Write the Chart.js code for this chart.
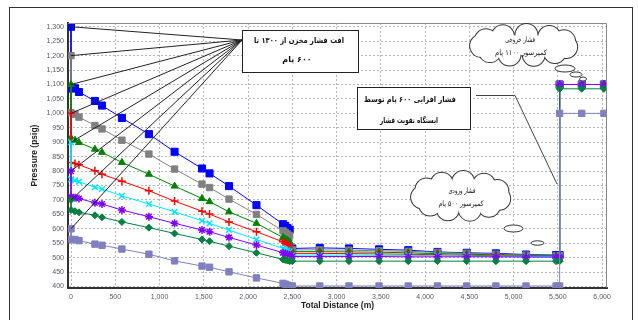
<!DOCTYPE html>
<html>
<head>
<meta charset="utf-8">
<script src="https://cdn.jsdelivr.net/npm/chart.js@4"></script>
<style>
  body { margin: 0; background: #fff; }
</style>
</head>
<body>
<canvas id="myChart" width="638" height="320"></canvas>
<script>
// distance along the line (m)
const distances = [0, 0, 45, 90, 270, 350, 575, 880, 1170, 1480, 1565, 1785, 2095, 2395,
  2420, 2445, 2470, 2500, 2810, 3140, 3480, 3810, 4140, 4470, 4800, 5140, 5480, 5520, 5520, 5770, 6020];

// pressure (psig) for each reservoir case
const p1300 = [1300, 1086, 1087, 1074, 1043, 1027, 984, 928, 867, 809, 792, 748, 682, 616,
  610, 603, 597, 532, 534, 532, 529, 526, 520, 517, 515, 511, 509, 509, 1100, 1100, 1100];
const p1200 = [1200, 1002, 997, 987, 958, 946, 907, 859, 807, 755, 743, 703, 650, 593,
  588, 582, 577, 527, 527, 526, 524, 522, 518, 515, 512, 509, 507, 507, 1100, 1100, 1100];
const p1100 = [1100, 915, 907, 899, 876, 865, 830, 789, 748, 705, 694, 659, 619, 570,
  565, 560, 555, 521, 521, 520, 519, 517, 514, 512, 510, 508, 506, 506, 1100, 1100, 1100];
const p1000 = [1000, 830, 826, 822, 801, 789, 765, 732, 696, 661, 651, 624, 590, 555,
  550, 546, 542, 515, 515, 514, 513, 512, 510, 508, 507, 505, 504, 504, 1100, 1100, 1100];
const p900 = [900, 771, 768, 763, 744, 738, 714, 686, 659, 628, 619, 596, 563, 532,
  528, 525, 522, 509, 509, 509, 508, 508, 507, 506, 505, 505, 504, 504, 1100, 1100, 1100];
const p800 = [800, 711, 708, 705, 690, 686, 665, 642, 619, 596, 590, 570, 544, 517,
  514, 512, 510, 504, 504, 504, 504, 503, 503, 503, 503, 502, 502, 502, 1100, 1100, 1100];
const p700 = [700, 665, 661, 657, 647, 640, 624, 604, 584, 563, 557, 540, 517, 494,
  492, 490, 488, 488, 488, 488, 488, 488, 488, 488, 488, 488, 488, 488, 1085, 1085, 1085];
const p600 = [600, 563, 563, 559, 547, 543, 530, 512, 489, 471, 467, 451, 430, 411,
  408, 405, 403, 402, 402, 402, 402, 402, 402, 402, 402, 402, 402, 402, 1000, 1000, 1000];

const xTickValues = [0, 500, 1000, 1500, 2000, 2500, 3000, 3500, 4000, 4500, 5000, 5500, 6000];
const yTickValues = [400, 450, 500, 550, 600, 650, 700, 750, 800, 850, 900, 950, 1000, 1050, 1100, 1150, 1200, 1250, 1300];

const series = [
  { name: '1300', values: p1300, color: '#0000ff', style: 'rect', r: 5 },
  { name: '1200', values: p1200, color: '#808080', style: 'rect', r: 4.5 },
  { name: '1100', values: p1100, color: '#008000', style: 'triangle', r: 4 },
  { name: '1000', values: p1000, color: '#ff0000', style: 'cross', r: 4 },
  { name: '900', values: p900, color: '#00e5ff', style: 'crossRot', r: 4 },
  { name: '800', values: p800, color: '#8000ff', style: 'star', r: 4 },
  { name: '700', values: p700, color: '#008040', style: 'rectRot', r: 3.5 },
  { name: '600', values: p600, color: '#8080c0', style: 'rect', r: 4.5 }
];

function cloud(ctx, cx, cy, rx, ry) {
  const bumps = [];
  const n = 11;
  for (let i = 0; i < n; i++) {
    const a = i / n * Math.PI * 2 + 0.2;
    bumps.push([cx + (rx - 11) * Math.cos(a), cy + (ry - 8) * Math.sin(a)]);
  }
  ctx.strokeStyle = '#333';
  ctx.lineWidth = 2;
  bumps.forEach(b => { ctx.beginPath(); ctx.arc(b[0], b[1], 11, 0, Math.PI * 2); ctx.stroke(); });
  ctx.fillStyle = '#fff';
  bumps.forEach(b => { ctx.beginPath(); ctx.arc(b[0], b[1], 11, 0, Math.PI * 2); ctx.fill(); });
  ctx.beginPath(); ctx.ellipse(cx, cy, rx - 11, ry - 8, 0, 0, Math.PI * 2); ctx.fill();
}

function bubble(ctx, cx, cy, rx, ry) {
  ctx.beginPath();
  ctx.ellipse(cx, cy, rx, ry, 0, 0, Math.PI * 2);
  ctx.fillStyle = '#fff'; ctx.fill();
  ctx.strokeStyle = '#333'; ctx.lineWidth = 1; ctx.stroke();
}

function box(ctx, x, y, w, h) {
  ctx.fillStyle = '#fff';
  ctx.fillRect(x, y, w, h);
  ctx.strokeStyle = '#222'; ctx.lineWidth = 1;
  ctx.strokeRect(x + 0.5, y + 0.5, w, h);
}

// text squeezed to the width it takes in the picture
function say(ctx, text, x, y, font, w) {
  ctx.font = font;
  ctx.fillStyle = '#111';
  ctx.direction = 'rtl';
  ctx.textAlign = 'center';
  ctx.textBaseline = 'middle';
  ctx.fillText(text, x, y, w);
}

const notes = {
  id: 'notes',
  afterDraw(chart) {
    const ctx = chart.ctx;
    const xs = chart.scales.x, ys = chart.scales.y, a = chart.chartArea;
    ctx.save();
    // outer frame
    ctx.strokeStyle = '#333'; ctx.lineWidth = 1;
    ctx.strokeRect(9.5, 7.5, 623, 330);
    // plot frame top and right
    ctx.strokeStyle = '#888';
    ctx.beginPath();
    ctx.moveTo(a.left, a.top + 0.5); ctx.lineTo(a.right - 0.5, a.top + 0.5); ctx.lineTo(a.right - 0.5, a.bottom);
    ctx.stroke();

    // callout lines to the reservoir start points
    ctx.strokeStyle = '#222'; ctx.lineWidth = 1;
    chart.data.datasets.forEach(ds => {
      ctx.beginPath();
      ctx.moveTo(242, 40);
      ctx.lineTo(xs.getPixelForValue(ds.data[0].x), ys.getPixelForValue(ds.data[0].y));
      ctx.stroke();
    });
    box(ctx, 242, 30, 116, 42);
    say(ctx, 'افت فشار مخزن از ۱۳۰۰ تا', 299, 41, 'bold 8px "DejaVu Sans"', 90);
    say(ctx, '۶۰۰ پام', 297, 60, 'bold 8px "DejaVu Sans"', 30);

    // booster note
    ctx.strokeStyle = '#444'; ctx.lineWidth = 1;
    ctx.beginPath();
    ctx.moveTo(476, 95.5); ctx.lineTo(515, 95.5); ctx.lineTo(557, 184);
    ctx.stroke();
    box(ctx, 357, 87, 113, 42);
    say(ctx, 'فشار افزایی ۶۰۰ پام توسط', 410, 100, 'bold 8px "DejaVu Sans"', 92);
    say(ctx, 'ایستگاه تقویت فشار', 409, 121, 'bold 8px "DejaVu Sans"', 58);

    // compressor outlet cloud
    cloud(ctx, 524, 45, 54, 18);
    bubble(ctx, 565, 68.5, 10, 3.5);
    bubble(ctx, 576, 74.5, 6, 2.5);
    bubble(ctx, 583, 79, 3.5, 2);
    say(ctx, 'فشار خروجی', 520, 40, '7.5px "DejaVu Sans"', 30);
    say(ctx, 'کمپرسور ۱۱۰۰ پام', 521, 53, '7.5px "DejaVu Sans"', 52);

    // compressor inlet cloud
    cloud(ctx, 461, 196, 50, 22);
    bubble(ctx, 513.5, 228.5, 9.5, 3.5);
    bubble(ctx, 537.5, 243, 6.5, 2.2);
    say(ctx, 'فشار ورودی', 462, 191, '7.5px "DejaVu Sans"', 27);
    say(ctx, 'کمپرسور ۵۰۰ پام', 461, 204, '7.5px "DejaVu Sans"', 45);
    ctx.restore();
  }
};

const config = {
  type: 'line',
  data: {
    datasets: series.map((s, i) => ({
      label: s.name,
      data: distances.map((d, j) => ({ x: d, y: s.values[j] })),
      borderColor: s.color,
      backgroundColor: s.color,
      borderWidth: 1,
      pointStyle: s.style,
      pointRadius: s.r,
      pointBorderWidth: (s.style === 'cross' || s.style === 'crossRot' || s.style === 'star') ? 1.5 : 1,
      tension: 0,
      order: series.length - i
    }))
  },
  options: {
    responsive: false,
    animation: false,
    layout: { padding: { left: 26, top: 23, right: 31, bottom: 0 } },
    plugins: { legend: { display: false }, tooltip: { enabled: false } },
    scales: {
      x: {
        type: 'linear',
        min: -34,
        max: 6055,
        afterBuildTicks: s => { s.ticks = xTickValues.map(v => ({ value: v })); },
        afterFit: s => { s.height = 32; },
        ticks: {
          font: { family: 'Liberation Sans', size: 7 },
          color: '#555566',
          padding: 5,
          maxRotation: 0,
          callback: v => v.toLocaleString('en-US')
        },
        grid: { color: '#b4b4b4', lineWidth: 1, drawTicks: false },
        border: { color: '#333', width: 2, dash: [2, 2] },
        title: {
          display: true,
          text: 'Total Distance (m)',
          font: { family: 'Liberation Sans', size: 8.5, weight: 'bold' },
          color: '#222',
          padding: { top: 0, bottom: 9 }
        }
      },
      y: {
        min: 395,
        max: 1313,
        afterBuildTicks: s => { s.ticks = yTickValues.map(v => ({ value: v })); },
        afterFit: s => { s.width = 42; },
        ticks: {
          font: { family: 'Liberation Sans', size: 7 },
          color: '#555566',
          padding: 4,
          callback: v => v.toLocaleString('en-US')
        },
        grid: { color: '#b4b4b4', lineWidth: 1, drawTicks: false },
        border: { color: '#333', width: 2, dash: [2, 2] },
        title: {
          display: true,
          text: 'Pressure (psig)',
          font: { family: 'Liberation Sans', size: 8.5, weight: 'bold' },
          color: '#222',
          padding: { top: 4, bottom: 0 }
        }
      }
    }
  },
  plugins: [notes]
};

const myChart = new Chart(document.getElementById('myChart'), config);
</script>
</body>
</html>
